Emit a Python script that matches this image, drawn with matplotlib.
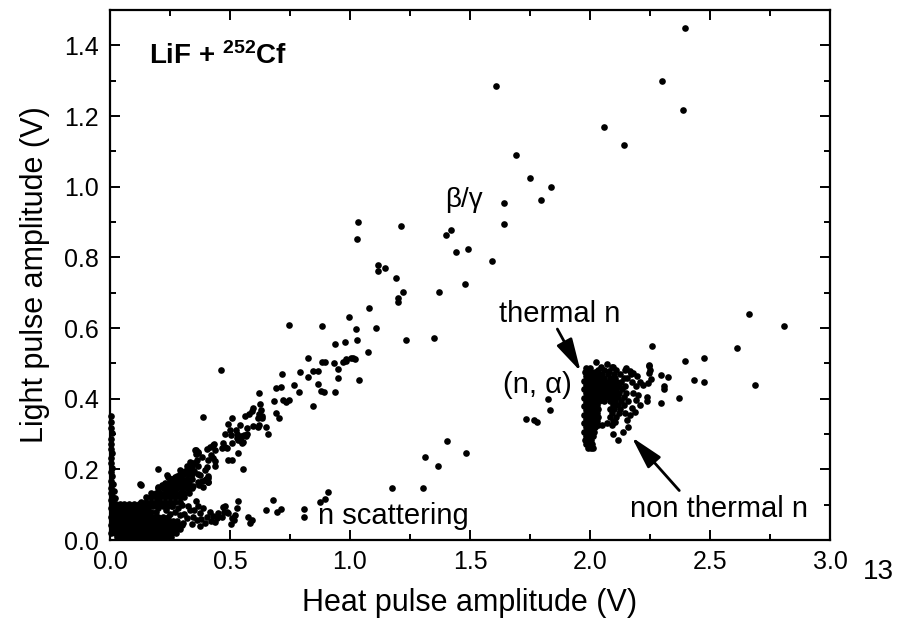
import matplotlib
matplotlib.use("Agg")
import matplotlib.pyplot as plt
from matplotlib.ticker import MultipleLocator, FormatStrFormatter

plt.rcParams['font.family'] = ['Liberation Sans', 'DejaVu Sans']
plt.rcParams['mathtext.fontset'] = 'custom'
plt.rcParams['mathtext.rm'] = 'Liberation Sans'
plt.rcParams['mathtext.bf'] = 'Liberation Sans:bold'
plt.rcParams['mathtext.it'] = 'Liberation Sans:italic'

# ---------------- data (heat amplitude V, light amplitude V) ----------------
# dense low-energy core, read as rows (light value, heat values)
core_y = [0.008, 0.019, 0.030, 0.042, 0.054, 0.066, 0.078, 0.090, 0.102]
core_x = [
    [0.03, 0.046, 0.06, 0.077, 0.09, 0.106, 0.12, 0.137, 0.15, 0.166, 0.18, 0.196, 0.21, 0.226, 0.24, 0.255],
    [0.005, 0.02, 0.036, 0.05, 0.066, 0.08, 0.096, 0.11, 0.126, 0.14, 0.156, 0.17, 0.186, 0.2, 0.216, 0.23, 0.246, 0.26, 0.275],
    [0.008, 0.022, 0.035, 0.052, 0.065, 0.082, 0.095, 0.112, 0.125, 0.142, 0.155, 0.172, 0.185, 0.202, 0.215, 0.232, 0.245, 0.262, 0.275, 0.29],
    [0.005, 0.02, 0.036, 0.05, 0.066, 0.08, 0.096, 0.11, 0.126, 0.14, 0.156, 0.17, 0.186, 0.2, 0.216, 0.23, 0.246, 0.26, 0.276, 0.29, 0.30],
    [0.008, 0.022, 0.035, 0.052, 0.065, 0.082, 0.095, 0.112, 0.125, 0.142, 0.155, 0.172, 0.185, 0.202, 0.215, 0.232, 0.245, 0.262, 0.28],
    [0.005, 0.02, 0.036, 0.05, 0.066, 0.08, 0.096, 0.11, 0.126, 0.14, 0.156, 0.17, 0.186, 0.2, 0.22, 0.24],
    [0.008, 0.022, 0.035, 0.052, 0.065, 0.082, 0.095, 0.112, 0.125, 0.142, 0.155, 0.172, 0.19],
    [0.005, 0.02, 0.036, 0.05, 0.066, 0.08, 0.096, 0.11, 0.126, 0.14, 0.16],
    [0.008, 0.024, 0.04, 0.058, 0.078, 0.10, 0.12],
]

# start of the beta/gamma band (dense part), rows
diag_y = [0.095, 0.108, 0.121, 0.134, 0.147, 0.160, 0.173, 0.186]
diag_x = [
    [0.14, 0.16, 0.18, 0.20, 0.22, 0.24, 0.26],
    [0.13, 0.15, 0.17, 0.19, 0.21, 0.23, 0.25, 0.27, 0.29],
    [0.15, 0.17, 0.19, 0.21, 0.23, 0.25, 0.27, 0.29, 0.31],
    [0.17, 0.19, 0.21, 0.23, 0.25, 0.27, 0.29, 0.31, 0.33],
    [0.20, 0.22, 0.24, 0.26, 0.28, 0.30, 0.32, 0.34],
    [0.23, 0.25, 0.27, 0.29, 0.31, 0.33],
    [0.26, 0.28, 0.30, 0.32, 0.34],
    [0.29, 0.31, 0.33],
]

# events along the left axis
stripe_pts = [(0.004, 0.352), (0.006, 0.335), (0.003, 0.318), (0.008, 0.302), (0.004, 0.287),
              (0.006, 0.272), (0.003, 0.258), (0.009, 0.246), (0.005, 0.232), (0.004, 0.218),
              (0.010, 0.205), (0.005, 0.192), (0.008, 0.180), (0.004, 0.168), (0.012, 0.158),
              (0.006, 0.148), (0.016, 0.140), (0.004, 0.132), (0.010, 0.124), (0.020, 0.118),
              (0.005, 0.112), (0.014, 0.108)]

# edge of the beta/gamma band
diag_edge_pts = [(0.360, 0.255), (0.365, 0.250), (0.360, 0.244), (0.335, 0.222), (0.347, 0.217),
                 (0.322, 0.210), (0.368, 0.210), (0.328, 0.197), (0.351, 0.195), (0.3125, 0.196),
                 (0.300, 0.190), (0.365, 0.188), (0.342, 0.187), (0.408, 0.182), (0.400, 0.173),
                 (0.410, 0.163), (0.4375, 0.223), (0.4375, 0.210), (0.428, 0.233), (0.199, 0.202),
                 (0.131, 0.156), (0.281, 0.182), (0.254, 0.174), (0.243, 0.179), (0.269, 0.162),
                 (0.290, 0.165), (0.317, 0.162), (0.217, 0.156), (0.236, 0.146), (0.267, 0.144),
                 (0.294, 0.149), (0.324, 0.154), (0.345, 0.153), (0.370, 0.156), (0.383, 0.167),
                 (0.125, 0.158), (0.201, 0.151), (0.236, 0.184), (0.250, 0.170), (0.271, 0.179),
                 (0.264, 0.156), (0.292, 0.198), (0.3125, 0.189), (0.326, 0.203), (0.340, 0.208),
                 (0.354, 0.217), (0.347, 0.193), (0.368, 0.165), (0.375, 0.184), (0.396, 0.198),
                 (0.410, 0.175), (0.389, 0.151)]

# beta / gamma band, sparse part
beta_pts = [(2.396, 1.450), (2.301, 1.298), (2.386, 1.218), (1.610, 1.284), (2.060, 1.168),
            (2.140, 1.118), (1.693, 1.091), (1.749, 1.025), (1.838, 0.998), (1.795, 0.962),
            (1.642, 0.954), (1.642, 0.895), (1.421, 0.876), (1.399, 0.862), (1.493, 0.824),
            (1.443, 0.815), (1.590, 0.791), (1.480, 0.724), (1.370, 0.701), (1.219, 0.701),
            (1.213, 0.890), (1.035, 0.899), (1.028, 0.852), (1.118, 0.779), (1.118, 0.762),
            (1.146, 0.769), (1.192, 0.742), (1.199, 0.686), (1.200, 0.673), (1.078, 0.657),
            (0.995, 0.631), (1.108, 0.601), (1.025, 0.597), (1.030, 0.567), (0.979, 0.561),
            (0.938, 0.554), (1.232, 0.567), (1.349, 0.572), (1.075, 0.532), (1.003, 0.516),
            (1.014, 0.514), (0.983, 0.513), (0.746, 0.608), (0.883, 0.607), (0.825, 0.516),
            (0.882, 0.503), (0.897, 0.504), (0.933, 0.502), (0.972, 0.504), (0.982, 0.506),
            (1.021, 0.512), (0.461, 0.480), (0.717, 0.469), (0.792, 0.475), (0.846, 0.478),
            (0.865, 0.479), (0.949, 0.484), (0.825, 0.461), (0.949, 0.459), (1.039, 0.452),
            (0.693, 0.430), (0.714, 0.434), (0.765, 0.440), (0.868, 0.441), (0.879, 0.422),
            (0.892, 0.419), (0.939, 0.419), (0.788, 0.418), (0.620, 0.417), (0.682, 0.393),
            (0.722, 0.395), (0.733, 0.391), (0.745, 0.397), (0.626, 0.386), (0.846, 0.378),
            (0.597, 0.374), (0.593, 0.365), (0.628, 0.367), (0.692, 0.360), (0.704, 0.346),
            (0.561, 0.352), (0.580, 0.357), (0.620, 0.356), (0.635, 0.352), (0.618, 0.344),
            (0.633, 0.346), (0.508, 0.344), (0.386, 0.348), (0.492, 0.328), (0.542, 0.325),
            (0.570, 0.317), (0.597, 0.323), (0.620, 0.325), (0.651, 0.321), (0.499, 0.312),
            (0.524, 0.310), (0.479, 0.299), (0.503, 0.297), (0.530, 0.300), (0.545, 0.293),
            (0.557, 0.297), (0.571, 0.301), (0.617, 0.319), (0.658, 0.301), (0.528, 0.288),
            (0.545, 0.281), (0.549, 0.274), (0.567, 0.293), (0.435, 0.272), (0.472, 0.274),
            (0.481, 0.263), (0.467, 0.261), (0.417, 0.263), (0.405, 0.258), (0.486, 0.260),
            (0.507, 0.274), (0.535, 0.283), (0.556, 0.278), (0.493, 0.227), (0.507, 0.227),
            (0.535, 0.246), (0.556, 0.201), (0.431, 0.269), (0.4375, 0.255), (0.421, 0.241),
            (0.410, 0.227), (0.403, 0.208), (0.354, 0.255), (0.368, 0.246), (0.382, 0.236),
            (0.361, 0.227), (0.396, 0.170), (0.410, 0.165)]

# neutron scattering band
nscat_pts = [(0.305, 0.047), (0.319, 0.061), (0.333, 0.085), (0.347, 0.066), (0.361, 0.057),
             (0.375, 0.040), (0.375, 0.076), (0.389, 0.090), (0.396, 0.047), (0.403, 0.066),
             (0.357, 0.109), (0.310, 0.075), (0.325, 0.095), (0.340, 0.045), (0.350, 0.085),
             (0.365, 0.095), (0.380, 0.060), (0.415, 0.080), (0.420, 0.055), (0.430, 0.068),
             (0.444, 0.061), (0.451, 0.076), (0.4375, 0.052), (0.465, 0.066), (0.475, 0.080),
             (0.479, 0.097), (0.493, 0.076), (0.507, 0.061), (0.521, 0.071), (0.517, 0.057),
             (0.504, 0.045), (0.535, 0.111), (0.528, 0.090), (0.576, 0.066), (0.590, 0.057),
             (0.583, 0.049), (0.650, 0.084), (0.681, 0.112), (0.695, 0.078), (0.7125, 0.089),
             (0.810, 0.087), (0.810, 0.064), (0.875, 0.108), (0.896, 0.117), (0.910, 0.137),
             (0.290, 0.070), (0.270, 0.080), (0.250, 0.075), (0.235, 0.085), (0.260, 0.095),
             (0.285, 0.090), (0.300, 0.100), (0.200, 0.090), (0.472, 0.094), (0.486, 0.080)]

# isolated events at intermediate heat
mid_pts = [(1.174, 0.148), (1.303, 0.146), (1.314, 0.235), (1.368, 0.210), (1.403, 0.281),
           (1.482, 0.246)]

# (n, alpha) capture peak: vertical column, rows
col_y = [0.487, 0.475, 0.463, 0.451, 0.439, 0.427, 0.415, 0.403, 0.391, 0.379, 0.367,
         0.355, 0.343, 0.331, 0.319, 0.307, 0.295, 0.283, 0.271, 0.259]
col_x = [
    [1.985, 2.000],
    [1.978, 1.992, 2.006, 2.020],
    [1.983, 1.997, 2.011, 2.025],
    [1.976, 1.990, 2.004, 2.018],
    [1.983, 1.997, 2.011, 2.025],
    [1.976, 1.990, 2.004, 2.018],
    [1.983, 1.997, 2.011, 2.025],
    [1.976, 1.990, 2.004, 2.018],
    [1.983, 1.997, 2.011, 2.025],
    [1.976, 1.990, 2.004, 2.018],
    [1.983, 1.997, 2.011, 2.025],
    [1.976, 1.990, 2.004, 2.018],
    [1.983, 1.997, 2.011, 2.025],
    [1.976, 1.990, 2.004, 2.018],
    [1.983, 1.997, 2.011, 2.022],
    [1.976, 1.990, 2.004, 2.016],
    [1.983, 1.997, 2.011],
    [1.978, 1.992, 2.006],
    [1.984, 1.998, 2.010],
    [1.990, 2.004],
]

# non-thermal neutron cloud, rows
cloud_y = [0.490, 0.480, 0.470, 0.459, 0.448, 0.437, 0.426, 0.415, 0.404, 0.393, 0.382,
           0.371, 0.360, 0.349, 0.338, 0.326]
cloud_x = [
    [2.045, 2.092],
    [2.035, 2.06, 2.11, 2.145],
    [2.03, 2.052, 2.075, 2.098, 2.125, 2.17],
    [2.038, 2.06, 2.085, 2.105, 2.14, 2.155],
    [2.03, 2.05, 2.072, 2.09, 2.112, 2.13, 2.175],
    [2.036, 2.058, 2.08, 2.10, 2.12, 2.145, 2.19],
    [2.03, 2.05, 2.067, 2.088, 2.11, 2.133],
    [2.04, 2.062, 2.082, 2.10, 2.122, 2.15, 2.18],
    [2.032, 2.055, 2.075, 2.095, 2.117, 2.14],
    [2.038, 2.06, 2.085, 2.105, 2.13, 2.16],
    [2.03, 2.095, 2.115, 2.14],
    [2.035, 2.085, 2.102, 2.125],
    [2.03, 2.09, 2.12, 2.145],
    [2.035, 2.085, 2.11],
    [2.03, 2.095],
    [2.035, 2.05],
]

# scattered events around the capture peak
cluster_pts = [(2.257, 0.548), (2.611, 0.542), (2.396, 0.507), (2.475, 0.514), (2.687, 0.439),
               (2.435, 0.453), (2.475, 0.447), (2.372, 0.401), (2.296, 0.387), (2.324, 0.461),
               (2.295, 0.467), (2.310, 0.436), (2.310, 0.427), (2.246, 0.494), (2.250, 0.480),
               (2.236, 0.406), (2.236, 0.392), (1.826, 0.399), (1.833, 0.368), (1.732, 0.342),
               (1.768, 0.340), (1.778, 0.333), (2.6625, 0.639), (2.810, 0.606), (2.118, 0.283),
               (2.139, 0.307), (2.160, 0.321), (2.097, 0.300), (2.090, 0.326), (2.014, 0.260),
               (2.069, 0.331), (2.104, 0.335), (2.153, 0.340), (2.167, 0.354), (2.1875, 0.363),
               (2.174, 0.373), (2.208, 0.382), (2.192, 0.397), (2.201, 0.411), (2.243, 0.444),
               (2.222, 0.439), (2.208, 0.448), (2.253, 0.455), (2.197, 0.465), (2.180, 0.472),
               (2.167, 0.477), (2.149, 0.486), (2.247, 0.493), (2.247, 0.474), (2.025, 0.504),
               (2.069, 0.499), (2.097, 0.491), (2.081, 0.477)]

x_ticks = [0.0, 0.5, 1.0, 1.5, 2.0, 2.5, 3.0]
y_ticks = [0.0, 0.2, 0.4, 0.6, 0.8, 1.0, 1.2, 1.4]

# ---------------- assemble ----------------
xs, ys = [], []
for yv, row in zip(core_y, core_x):
    xs += row; ys += [yv] * len(row)
for yv, row in zip(diag_y, diag_x):
    xs += row; ys += [yv] * len(row)
for yv, row in zip(col_y, col_x):
    xs += row; ys += [yv] * len(row)
for yv, row in zip(cloud_y, cloud_x):
    xs += row; ys += [yv] * len(row)
for group in (stripe_pts, diag_edge_pts, beta_pts, nscat_pts, mid_pts, cluster_pts):
    xs += [p[0] for p in group]
    ys += [p[1] for p in group]

fig = plt.figure(figsize=(9.09, 6.24), dpi=100)
ax = fig.add_axes([110 / 909, 84 / 624, 720 / 909, 530 / 624])

ax.plot(xs, ys, linestyle='none', marker='o', markersize=4.8,
        markerfacecolor='black', markeredgewidth=0, clip_on=False)

ax.set_xlim(0, 3.0)
ax.set_ylim(0, 1.5)
ax.set_xticks(x_ticks)
ax.set_yticks(y_ticks)
ax.xaxis.set_minor_locator(MultipleLocator(0.25))
ax.yaxis.set_minor_locator(MultipleLocator(0.1))
ax.xaxis.set_major_formatter(FormatStrFormatter('%.1f'))
ax.yaxis.set_major_formatter(FormatStrFormatter('%.1f'))

for s in ax.spines.values():
    s.set_linewidth(1.6)
ax.tick_params(which='both', direction='in', top=True, right=True, width=1.4)
ax.tick_params(which='major', length=7.5)
ax.tick_params(which='minor', length=4.5)
ax.tick_params(axis='y', labelsize=18, pad=8)
ax.tick_params(axis='x', labelsize=18, pad=7)

ax.set_xlabel('Heat pulse amplitude (V)', fontsize=22, labelpad=10)
ax.set_ylabel('Light pulse amplitude (V)', fontsize=22, labelpad=10)

ax.text(0.1625, 1.346, r'LiF + $^{\mathbf{252}}$Cf', fontsize=20, fontweight='bold',
        ha='left', va='baseline')
ax.text(1.396, 0.943, 'β/γ', fontsize=20, ha='left', va='baseline')
ax.text(1.621, 0.616, 'thermal n', fontsize=21, ha='left', va='baseline')
ax.text(1.6375, 0.416, '(n, α)', fontsize=21, ha='left', va='baseline')
ax.text(2.167, 0.065, 'non thermal n', fontsize=21, ha='left', va='baseline')
ax.text(0.867, 0.045, 'n scattering', fontsize=21, ha='left', va='baseline')

arrow_kw = dict(arrowstyle='-|>,head_length=1.0,head_width=0.26', color='black',
                lw=2.0, mutation_scale=20, shrinkA=0, shrinkB=0)
ax.annotate('', xy=(1.961, 0.477), xytext=(1.864, 0.597), arrowprops=arrow_kw)
ax.annotate('', xy=(2.174, 0.291), xytext=(2.372, 0.140), arrowprops=arrow_kw)

fig.text(878 / 909, 1 - 572 / 624, '13', fontsize=20, ha='center', va='center')

fig.savefig('out.png', dpi=100)
